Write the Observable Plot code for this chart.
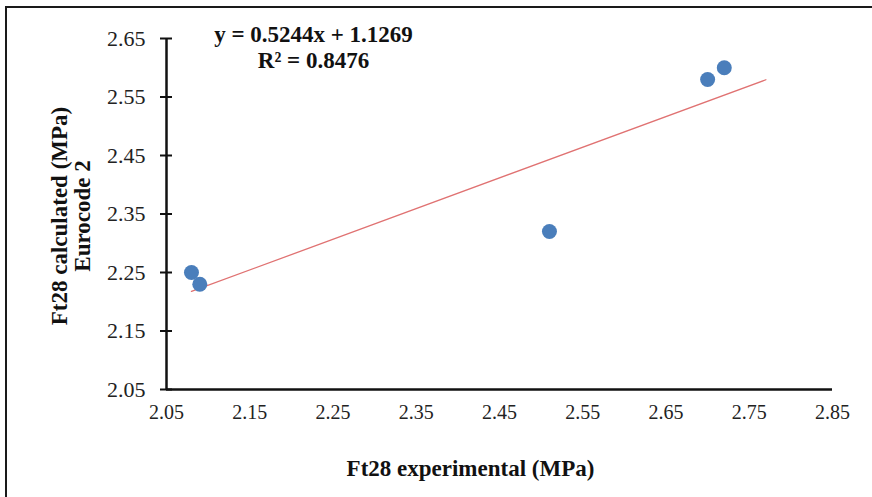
<!DOCTYPE html>
<html>
<head>
<meta charset="utf-8">
<script src="https://cdn.jsdelivr.net/npm/d3@7"></script>
<script src="https://cdn.jsdelivr.net/npm/@observablehq/plot@0.6"></script>
<style>
  html, body { margin: 0; padding: 0; background: #fff; }
  #wrap { position: relative; width: 872px; height: 497px; overflow: hidden; }
  #border { position: absolute; left: 5px; top: 6px; width: 880px; height: 500px;
            border-top: 2px solid #1a1a1a; border-left: 2px solid #1a1a1a; pointer-events: none; }
  svg { font-family: "Liberation Serif", "Times New Roman", serif; }
</style>
</head>
<body>
<div id="wrap"><div id="border"></div></div>
<script>
// Data
const experimental = [2.08, 2.09, 2.51, 2.70, 2.72];
const calculated   = [2.25, 2.23, 2.32, 2.58, 2.60];
const xTicks = [2.05, 2.15, 2.25, 2.35, 2.45, 2.55, 2.65, 2.75, 2.85];
const yTicks = [2.05, 2.15, 2.25, 2.35, 2.45, 2.55, 2.65];
const slope = 0.5244;
const intercept = 1.1269;
const r2 = 0.8476;
const trendRange = [2.08, 2.77];
const xTitle = "Ft28 experimental (MPa)";
const yTitle = "Ft28 calculated (MPa)\nEurocode 2";

const points = experimental.map((x, i) => ({x, y: calculated[i]}));
const trend = trendRange.map(x => ({x, y: slope * x + intercept}));
const eqText = `y = ${slope.toFixed(4)}x + ${intercept.toFixed(4)}\nR² = ${r2.toFixed(4)}`;

const font = "Liberation Serif";
const chart = Plot.plot({
  width: 872,
  height: 497,
  marginLeft: 166,
  marginRight: 40,
  marginTop: 38,
  marginBottom: 108,
  style: {fontFamily: font, background: "transparent", overflow: "visible"},
  x: {domain: [2.05, 2.85]},
  y: {domain: [2.05, 2.65]},
  marks: [
    Plot.axisX({ticks: xTicks, tickSize: 0, tickPadding: 15, fontSize: 20, tickFormat: d3.format(".2f"), label: null, fill: "#222"}),
    Plot.axisY({ticks: yTicks, tickSize: 12, dx: 6, tickPadding: 15, fontSize: 22, tickFormat: d3.format(".2f"), label: null, stroke: "#111", strokeWidth: 2, fill: "#222"}),
    Plot.ruleX([2.05], {stroke: "#111", strokeWidth: 2.5}),
    Plot.ruleY([2.05], {stroke: "#111", strokeWidth: 2.5}),
    Plot.line(trend, {x: "x", y: "y", stroke: "#e07272", strokeWidth: 1.3}),
    Plot.dot(points, {x: "x", y: "y", r: 7.5, fill: "#4a7ebb", stroke: "none"}),
    Plot.text([eqText], {frameAnchor: "top-left", dx: 147, dy: -14, lineAnchor: "top", textAnchor: "middle",
      fontSize: 23, fontWeight: "bold", lineHeight: 1.1, fill: "#111"}),
    Plot.text([xTitle], {frameAnchor: "bottom", dx: -29, dy: 79, textAnchor: "middle", lineAnchor: "middle",
      fontSize: 23, fontWeight: "bold", fill: "#111"}),
    Plot.text([yTitle], {frameAnchor: "left", dx: -95, dy: 2, rotate: -90, textAnchor: "middle", lineAnchor: "middle",
      fontSize: 23, fontWeight: "bold", lineHeight: 1.0, fill: "#111"})
  ]
});
document.getElementById("wrap").prepend(chart);
</script>
</body>
</html>
